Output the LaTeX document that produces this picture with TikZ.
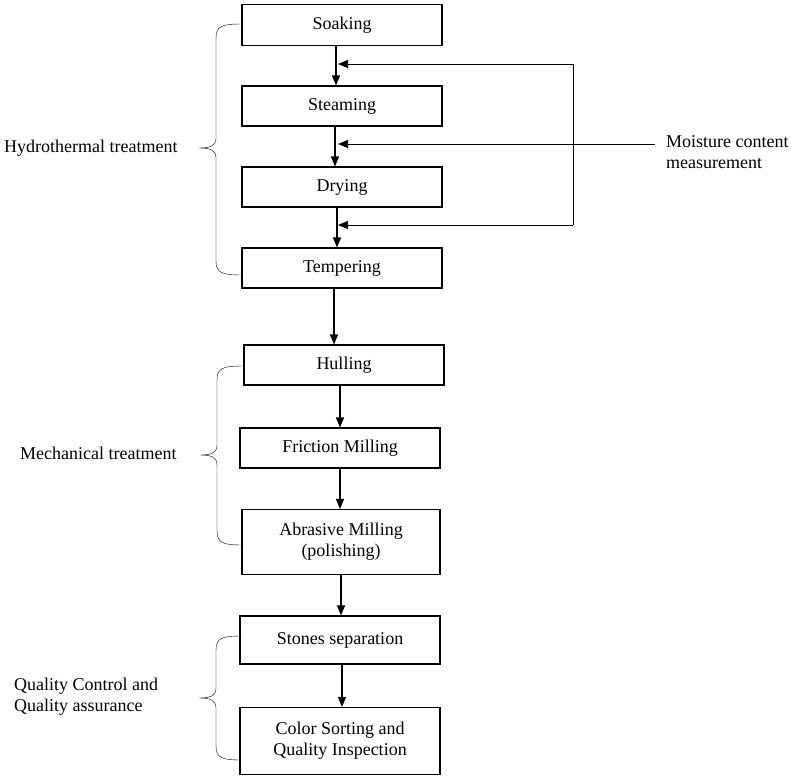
\documentclass[tikz,border=0pt]{standalone}
\usepackage{fontspec}
\setmainfont{Liberation Serif}
\usetikzlibrary{arrows.meta}
\newcommand{\mybrc}[4]{% x, ytop, ymid, ybot ; box edge x = #1+26
  \draw[thin] ({#1+26},#2) .. controls ({#1+6},#2) and (#1,{#2+2}) .. (#1,{#2+14}) -- (#1,{#3-10})
    .. controls (#1,{#3-2}) and ({#1-6},#3) .. ({#1-17},#3)
    .. controls ({#1-6},#3) and (#1,{#3+2}) .. (#1,{#3+10}) -- (#1,{#4-14})
    .. controls (#1,{#4-2}) and ({#1+6},#4) .. ({#1+26},#4);}
\begin{document}
\begin{tikzpicture}[x=1pt,y=-1pt,
  box/.style={draw,line width=1.1pt,minimum width=200pt,align=center,font=\fontsize{18}{21}\selectfont,inner sep=0pt},
  lab/.style={align=left,anchor=west,font=\fontsize{18}{21}\selectfont,inner sep=0pt},
  flow/.style={line width=1.4pt,-{Triangle[length=10pt,width=8pt]}},
  fb/.style={line width=0.6pt,-{Triangle[length=10pt,width=8pt]}}]
\useasboundingbox (0,0) rectangle (798,780);
\node[box,minimum height=41pt] (soak) at (342,25) {Soaking};
\node[box,minimum height=40pt] (steam) at (342,106) {Steaming};
\node[box,minimum height=40pt] (dry) at (342,187) {Drying};
\node[box,minimum height=40pt] (temp) at (342,268) {Tempering};
\node[box,minimum height=40pt] (hull) at (344,365) {Hulling};
\node[box,minimum height=40pt] (fric) at (340,448) {Friction Milling};
\node[box,minimum width=198pt,minimum height=65pt] (abr) at (341,542) {Abrasive Milling\\(polishing)};
\node[box,minimum height=48pt] (stone) at (340,640) {Stones separation};
\node[box,minimum height=67pt] (col) at (340,741) {Color Sorting and\\Quality Inspection};
\draw[flow] (soak.south -| 336,0) -- (steam.north -| 336,0);
\draw[flow] (steam.south -| 335,0) -- (dry.north -| 335,0);
\draw[flow] (dry.south -| 337,0) -- (temp.north -| 337,0);
\draw[flow] (temp.south -| 334,0) -- (hull.north -| 334,0);
\draw[flow] (hull.south -| 340,0) -- (fric.north -| 340,0);
\draw[flow] (fric.south -| 340,0) -- (abr.north -| 340,0);
\draw[flow] (abr.south -| 341,0) -- (stone.north -| 341,0);
\draw[flow] (stone.south -| 342,0) -- (col.north -| 342,0);
\coordinate (f1) at (573,64); \coordinate (f3) at (573,225); \coordinate (f2) at (655,144);
\coordinate (t1) at (338,64); \coordinate (t2) at (338,144); \coordinate (t3) at (338,225);
\draw[line width=0.6pt] (f1) -- (f3);
\draw[fb] (f1) -- (t1);
\draw[fb] (f2) -- (t2);
\draw[fb] (f3) -- (t3);
\node[lab] (mc) at (666,152) {Moisture content\\\hspace*{0pt}measurement};
\node[lab] (ht) at (4,148) {Hydrothermal treatment};
\node[lab] (mt) at (20,453) {Mechanical treatment};
\node[lab] (qc) at (14,697) {Quality Control and\\Quality assurance};
\mybrc{216}{24}{148}{275}
\mybrc{217}{366}{455}{545}
\mybrc{216}{636}{698}{760}
\end{tikzpicture}
\end{document}
